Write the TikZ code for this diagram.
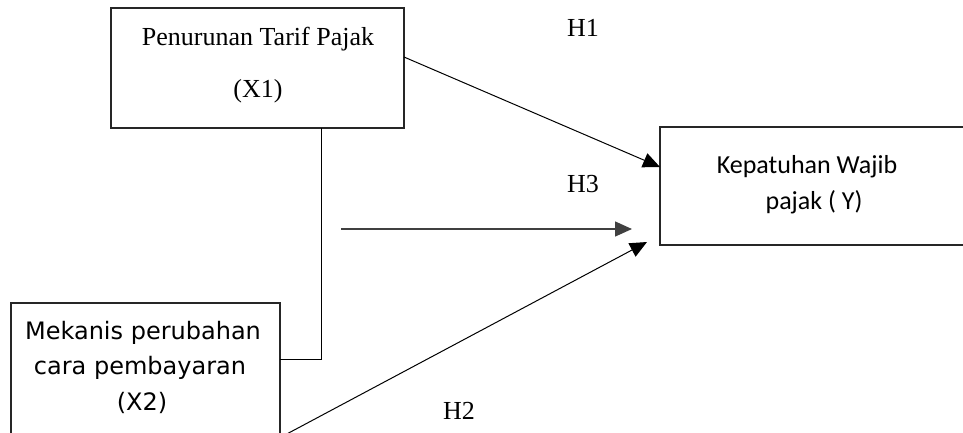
\documentclass[tikz,border=0pt]{standalone}
\usepackage{fontspec}
\setmainfont{Liberation Serif}
\newfontfamily\calfont{Carlito}
\newfontfamily\comfont{DejaVu Sans}
\usetikzlibrary{arrows.meta}
\begin{document}
\begin{tikzpicture}[x=1pt,y=-1pt,
 box/.style={draw=black!85, line width=1.1pt, inner sep=0pt, outer sep=0pt},
 conn/.style={line width=1pt},
 arr/.style={conn,-{Triangle[length=17pt,width=15pt]}},
 tms/.style={font=\fontsize{26}{30}\selectfont, anchor=base, inner sep=0pt},
 cal/.style={font=\calfont\fontsize{26}{30}\selectfont, anchor=base, inner sep=0pt},
 com/.style={font=\comfont\fontsize{24}{28}\selectfont, anchor=base, inner sep=0pt}]
\useasboundingbox (0,0) rectangle (963,432);
\clip (0,0) rectangle (963,432);
% boxes
\node[box, minimum width=293pt, minimum height=120pt] (X1) at (257.5,68) {};
\node[box, minimum width=269pt, minimum height=147pt] (X2) at (145.5,376.5) {};
\node[box, minimum width=325pt, minimum height=118pt] (Y) at (822.5,186) {};
% texts
\node[tms] (t1a) at (258,45) {Penurunan Tarif Pajak};
\node[tms] (t1b) at (258,97) {(X1)};
\node[com] (t2a) at (143,339) {Mekanis perubahan};
\node[com] (t2b) at (140,374) {cara pembayaran};
\node[com] (t2c) at (142,410) {(X2)};
\node[cal] (tya) at (807,173) {Kepatuhan Wajib};
\node[cal] (tyb) at (814,209) {pajak ( Y)};
\node[tms] (h1) at (583,36) {H1};
\node[tms] (h3) at (583,192) {H3};
\node[tms] (h2) at (459,419) {H2};
% connectors
\coordinate (j) at (321,359);
\draw[conn] (X1.south -| j) -- (j) -- (j -| X2.east);
\draw[arr] ([yshift=11pt]X1.east) -- ([yshift=19pt]Y.west);
\coordinate (h3a) at (341,229);
\coordinate (h3b) at (632,229);
\draw[arr, draw=black!75, fill=black, line width=1.4pt] (h3a) -- (h3b);
\coordinate (h2a) at (283,436);
\coordinate (h2b) at (647,242);
\draw[arr] (h2a) -- (h2b);
\end{tikzpicture}
\end{document}
